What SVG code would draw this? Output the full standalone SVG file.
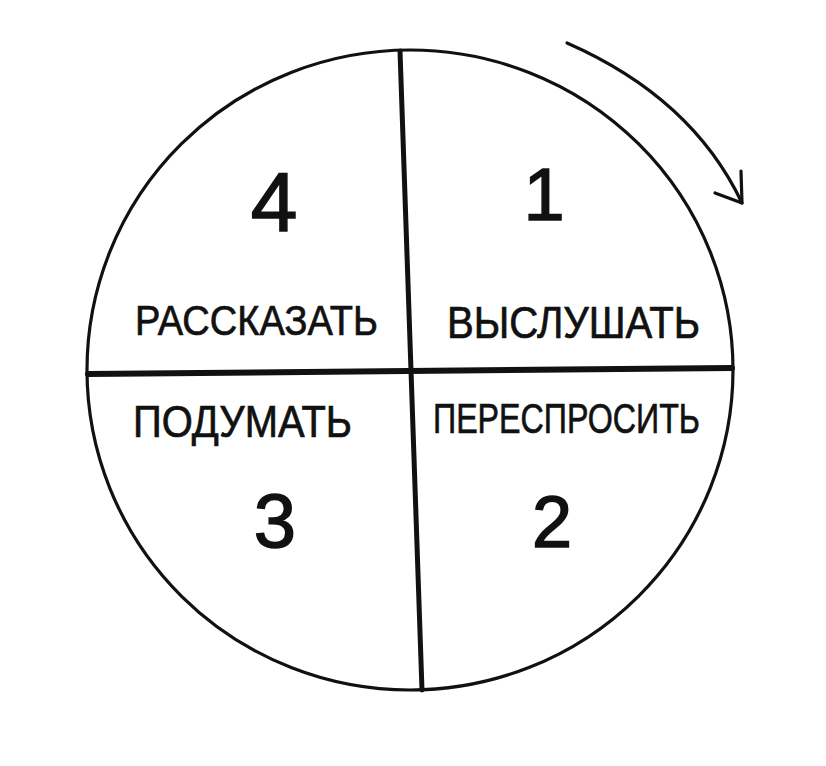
<svg xmlns="http://www.w3.org/2000/svg" width="826" height="766" viewBox="0 0 826 766">
  <style>
    .ink { fill: none; stroke: #111; stroke-linecap: round; stroke-linejoin: round; }
    .lbl { font-family: "Liberation Sans", Arial, sans-serif; fill: #111; stroke: #111; stroke-width: 0.7; }
    .num { font-family: "Liberation Sans", Arial, sans-serif; fill: #111; stroke: #111; stroke-width: 1.5; text-anchor: middle; }
  </style>
  <rect width="826" height="766" fill="#ffffff"/>
  <g id="circle">
    <ellipse class="ink" cx="410" cy="370" rx="323" ry="320" stroke-width="3.2"/>
  </g>
  <g id="connectors">
    <path class="ink" d="M400,51 L422,690" stroke-width="5"/>
    <path class="ink" d="M88,374 L732,368" stroke-width="6"/>
    <path class="ink" d="M567,43 C640,75 705,125 742,203" stroke-width="3.2"/>
    <path class="ink" d="M741,171 L742,203 L715,193" stroke-width="3.2"/>
  </g>
  <g id="q1">
    <text class="num" x="544" y="220" font-size="74">1</text>
    <text class="lbl" x="447" y="338" font-size="44" textLength="253" lengthAdjust="spacingAndGlyphs">ВЫСЛУШАТЬ</text>
  </g>
  <g id="q2">
    <text class="lbl" x="433" y="433" font-size="43" textLength="267" lengthAdjust="spacingAndGlyphs">ПЕРЕСПРОСИТЬ</text>
    <text class="num" x="552" y="547" font-size="72">2</text>
  </g>
  <g id="q3">
    <text class="lbl" x="133" y="437" font-size="44" textLength="219" lengthAdjust="spacingAndGlyphs">ПОДУМАТЬ</text>
    <text class="num" x="275" y="547" font-size="76">3</text>
  </g>
  <g id="q4">
    <text class="num" x="274" y="231" font-size="84">4</text>
    <text class="lbl" x="135" y="335" font-size="42" textLength="243" lengthAdjust="spacingAndGlyphs">РАССКАЗАТЬ</text>
  </g>
</svg>
